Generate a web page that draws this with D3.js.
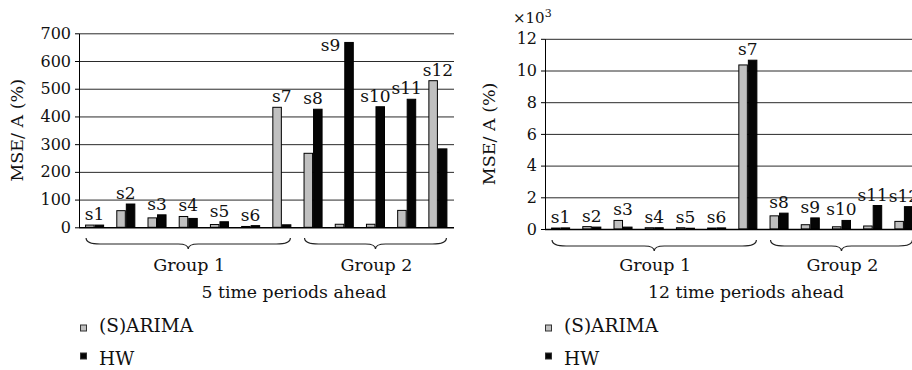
<!DOCTYPE html>
<html><head><meta charset="utf-8">
<script src="https://cdn.jsdelivr.net/npm/d3@7"></script>
<style>
html,body{margin:0;padding:0;background:#fff;}
svg{display:block;}
text{font-family:"DejaVu Serif",serif;fill:#111;}
</style></head>
<body>
<svg id="chart" width="912" height="370"></svg>
<script>
const categories = ["s1","s2","s3","s4","s5","s6","s7","s8","s9","s10","s11","s12"];
const seriesNames = ["(S)ARIMA","HW"];
const groupNames = ["Group 1","Group 2"];
const groupMembers = [["s1","s7"],["s8","s12"]];
// 5 time periods ahead, MSE/A (%)
const arima5 = [8,60,34,39,10,3,433,267,11,11,61,529];
const hw5    = [8,84,45,32,20,6,9,426,667,435,462,283];
const ticks5 = [0,100,200,300,400,500,600,700];
// 12 time periods ahead, MSE/A (%) in thousands
const arima12 = [0.06,0.15,0.54,0.08,0.08,0.06,10.35,0.83,0.27,0.14,0.19,0.48];
const hw12    = [0.07,0.12,0.12,0.08,0.05,0.07,10.65,1.0,0.7,0.54,1.48,1.41];
const ticks12 = [0,2,4,6,8,10,12];
const titles = ["5 time periods ahead","12 time periods ahead"];
const colors = ["#c0c0c0","#050505"];

const svg = d3.select("#chart");

function panel(cfg){
  const g = svg.append("g");
  const x = d3.scaleBand().domain(categories).range([cfg.x0, cfg.x1]).paddingInner(0.39).paddingOuter(0.195);
  const y = d3.scaleLinear().domain([0, d3.max(cfg.ticks)]).range([cfg.yb, cfg.yt]);
  const sub = d3.scaleBand().domain(seriesNames).range([0, x.bandwidth()]);
  const data = categories.map((c,i)=>({c, vals:[cfg.a[i], cfg.h[i]]}));

  // gridlines
  g.append("g").selectAll("line").data(cfg.ticks.filter(t=>t>0)).join("line")
    .attr("x1", cfg.x0).attr("x2", cfg.gridEnd)
    .attr("y1", d=>y(d)+0.5).attr("y2", d=>y(d)+0.5)
    .attr("stroke", "#2a2a2a").attr("stroke-width", 1);

  // y axis
  const ax = g.append("g").attr("transform", `translate(${cfg.x0},0)`)
    .call(d3.axisLeft(y).tickValues(cfg.ticks).tickSize(4).tickPadding(4).tickSizeOuter(0));
  ax.select(".domain").attr("stroke","#000");
  ax.selectAll(".tick line").attr("stroke","#000");
  ax.selectAll("text").attr("font-family","DejaVu Serif").attr("font-size",16).attr("fill","#111");

  // bars
  const cg = g.append("g").selectAll("g").data(data).join("g")
    .attr("transform", d=>`translate(${x(d.c)},0)`);
  cg.selectAll("rect").data(d=>d.vals.map((v,k)=>({v,k}))).join("rect")
    .attr("x", d=>sub(seriesNames[d.k])+0.5)
    .attr("width", sub.bandwidth()-1)
    .attr("y", d=>y(d.v))
    .attr("height", d=>Math.max(0.5, y(0)-y(d.v)))
    .attr("fill", d=>colors[d.k]).attr("stroke","#000").attr("stroke-width",1);

  // baseline
  g.append("line").attr("x1", cfg.x0).attr("x2", cfg.gridEnd)
    .attr("y1", y(0)+0.5).attr("y2", y(0)+0.5).attr("stroke","#000").attr("stroke-width",1.5);

  // labels
  g.append("g").selectAll("text").data(data).join("text")
    .attr("font-size",17)
    .each(function(d){
      const top = y(d3.max(d.vals));
      const cx = x(d.c) + x.bandwidth()/2;
      const t = d3.select(this).text(d.c);
      if (top - 5 - 14 < cfg.yt) {
        t.attr("x", cx - 4).attr("y", top + 9).attr("text-anchor","end");
      } else {
        t.attr("x", cx).attr("y", top - 5).attr("text-anchor","middle");
      }
    });

  // braces + group names
  groupNames.forEach((name, gi)=>{
    const [a,b] = groupMembers[gi];
    const xa = x(a) + cfg.braceIn, xb = x(b) + x.bandwidth() - cfg.braceIn;
    const xm = (xa+xb)/2, yt = cfg.braceY, ym = yt+6, yp = yt+11;
    g.append("path")
      .attr("d", `M${xa},${yt} Q${xa},${ym} ${xa+14},${ym} L${xm-10},${ym} Q${xm},${ym} ${xm},${yp} Q${xm},${ym} ${xm+10},${ym} L${xb-14},${ym} Q${xb},${ym} ${xb},${yt}`)
      .attr("fill","none").attr("stroke","#222").attr("stroke-width",1.2);
    g.append("text").attr("x", xm+1).attr("y", 271).attr("text-anchor","middle")
      .attr("font-size",17.5).text(name);
  });

  // title
  g.append("text").attr("x", cfg.titleX).attr("y", 298).attr("text-anchor","middle")
    .attr("font-size",17.3).text(cfg.title);

  // axis title
  const at = g.append("text").attr("transform", `translate(${cfg.atX},${(cfg.yb+cfg.yt)/2}) rotate(-90)`)
    .attr("text-anchor","middle").attr("font-size",17.5);
  at.text(cfg.axisTitle);

  // legend
  seriesNames.forEach((s,k)=>{
    const ly = [328, 356][k];
    g.append("rect").attr("x", cfg.legX+0.5).attr("y", ly-3).attr("width",6).attr("height",6)
      .attr("fill", colors[k]).attr("stroke","#333").attr("stroke-width",1);
    g.append("text").attr("x", cfg.legX+19).attr("y", [332,365][k]).attr("font-size",18.5).text(s);
  });
  return {g, y};
}

panel({x0:79, x1:453.5, gridEnd:454, yb:227.3, yt:33.3, ticks:ticks5, a:arima5, h:hw5,
  braceIn:1, braceY:238, title:titles[0], titleX:294, atX:23, axisTitle:"MSE/ A (%)", legX:80});
const p2 = panel({x0:545, x1:919.5, gridEnd:912, yb:229, yt:38.8, ticks:ticks12, a:arima12, h:hw12,
  braceIn:1, braceY:240, title:titles[1], titleX:746, atX:495, axisTitle:"MSE/ A (%)", legX:545});

// ×10^3 multiplier
const m = svg.append("text").attr("x", 513).attr("y", 23).attr("font-size",15);
m.append("tspan").text("×10");
m.append("tspan").attr("font-size",11).attr("dy",-6).text("3");
</script>
</body></html>
